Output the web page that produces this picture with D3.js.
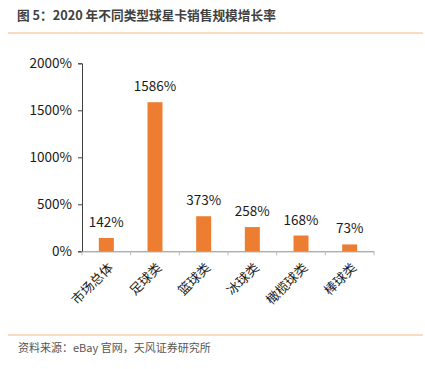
<!DOCTYPE html>
<html>
<head>
<meta charset="utf-8">
<script src="https://cdn.jsdelivr.net/npm/d3@7"></script>
<style>
	body { margin: 0; background: #fff; }
	text { font-family: "Noto Sans CJK SC", "Noto Sans", sans-serif; }
</style>
</head>
<body>
<script>
const categories = ['市场总体', '足球类', '篮球类', '冰球类', '橄榄球类', '棒球类'];
const growth = [142, 1586, 373, 258, 168, 73];
const y_ticks = [0, 500, 1000, 1500, 2000];

const width = 425, height = 369;
const svg = d3.select('body').append('svg')
	.attr('width', width)
	.attr('height', height);

// title and frame lines
svg.append('text')
	.attr('x', 17).attr('y', 20)
	.attr('font-size', 12.7).attr('font-weight', 'bold').attr('fill', '#404040')
	.text('图 5：2020 年不同类型球星卡销售规模增长率');
svg.append('line')
	.attr('x1', 8).attr('x2', 423).attr('y1', 33).attr('y2', 33)
	.attr('stroke', '#F7B882').attr('stroke-width', 1);
svg.append('line')
	.attr('x1', 8).attr('x2', 423).attr('y1', 335).attr('y2', 335)
	.attr('stroke', '#F7B882').attr('stroke-width', 1);
svg.append('text')
	.attr('x', 18).attr('y', 352)
	.attr('font-size', 11).attr('fill', '#555')
	.text('资料来源：eBay 官网，天风证券研究所');

const x = d3.scaleBand()
	.domain(categories)
	.range([82, 374]);

const y = d3.scaleLinear()
	.domain([0, 2000])
	.range([251.3, 63.3]);

// y axis
const y_axis = svg.append('g')
	.attr('transform', 'translate(82,0)')
	.call(d3.axisLeft(y).tickValues(y_ticks).tickSize(4).tickPadding(6).tickFormat(function(d) { return d + '%'; }));
y_axis.select('.domain').attr('stroke', '#404040');
y_axis.selectAll('.tick line').attr('stroke', '#404040');
y_axis.selectAll('.tick text')
	.attr('font-size', 13.5).attr('fill', '#1a1a1a')
	.attr('font-family', '"Noto Sans CJK SC", sans-serif');

// bars
svg.selectAll('rect.bar')
	.data(growth)
	.enter()
	.append('rect')
		.attr('class', 'bar')
		.attr('x', function(d, i) { return x(categories[i]) + x.bandwidth() / 2 - 7.5; })
		.attr('width', 15)
		.attr('y', function(d) { return y(d); })
		.attr('height', function(d) { return y(0) - y(d); })
		.attr('fill', '#ED7D31');

// value labels
svg.selectAll('text.val')
	.data(growth)
	.enter()
	.append('text')
		.attr('class', 'val')
		.attr('x', function(d, i) { return x(categories[i]) + x.bandwidth() / 2; })
		.attr('y', function(d) { return y(d) - 11; })
		.attr('text-anchor', 'middle')
		.attr('font-size', 13.5).attr('fill', '#1a1a1a')
		.text(function(d) { return d + '%'; });

// x axis
const x_axis = svg.append('g')
	.attr('transform', 'translate(0,251.3)')
	.call(d3.axisBottom(x).tickSize(0).tickPadding(0));
x_axis.select('.domain').attr('stroke', '#8c8c8c');
x_axis.selectAll('.tick text').remove();
x_axis.selectAll('line.sep')
	.data(d3.range(categories.length + 1))
	.enter()
	.append('line')
		.attr('class', 'sep')
		.attr('x1', function(i) { return 82 + i * x.bandwidth(); })
		.attr('x2', function(i) { return 82 + i * x.bandwidth(); })
		.attr('y1', 0).attr('y2', 4)
		.attr('stroke', '#bbb');

svg.selectAll('text.cat')
	.data(categories)
	.enter()
	.append('text')
		.attr('class', 'cat')
		.attr('transform', function(d) { return 'translate(' + (x(d) + x.bandwidth() / 2 + 5) + ',266) rotate(-45)'; })
		.attr('text-anchor', 'end')
		.attr('dominant-baseline', 'middle')
		.attr('font-size', 13).attr('fill', '#1a1a1a')
		.text(function(d) { return d; });
</script>
</body>
</html>
